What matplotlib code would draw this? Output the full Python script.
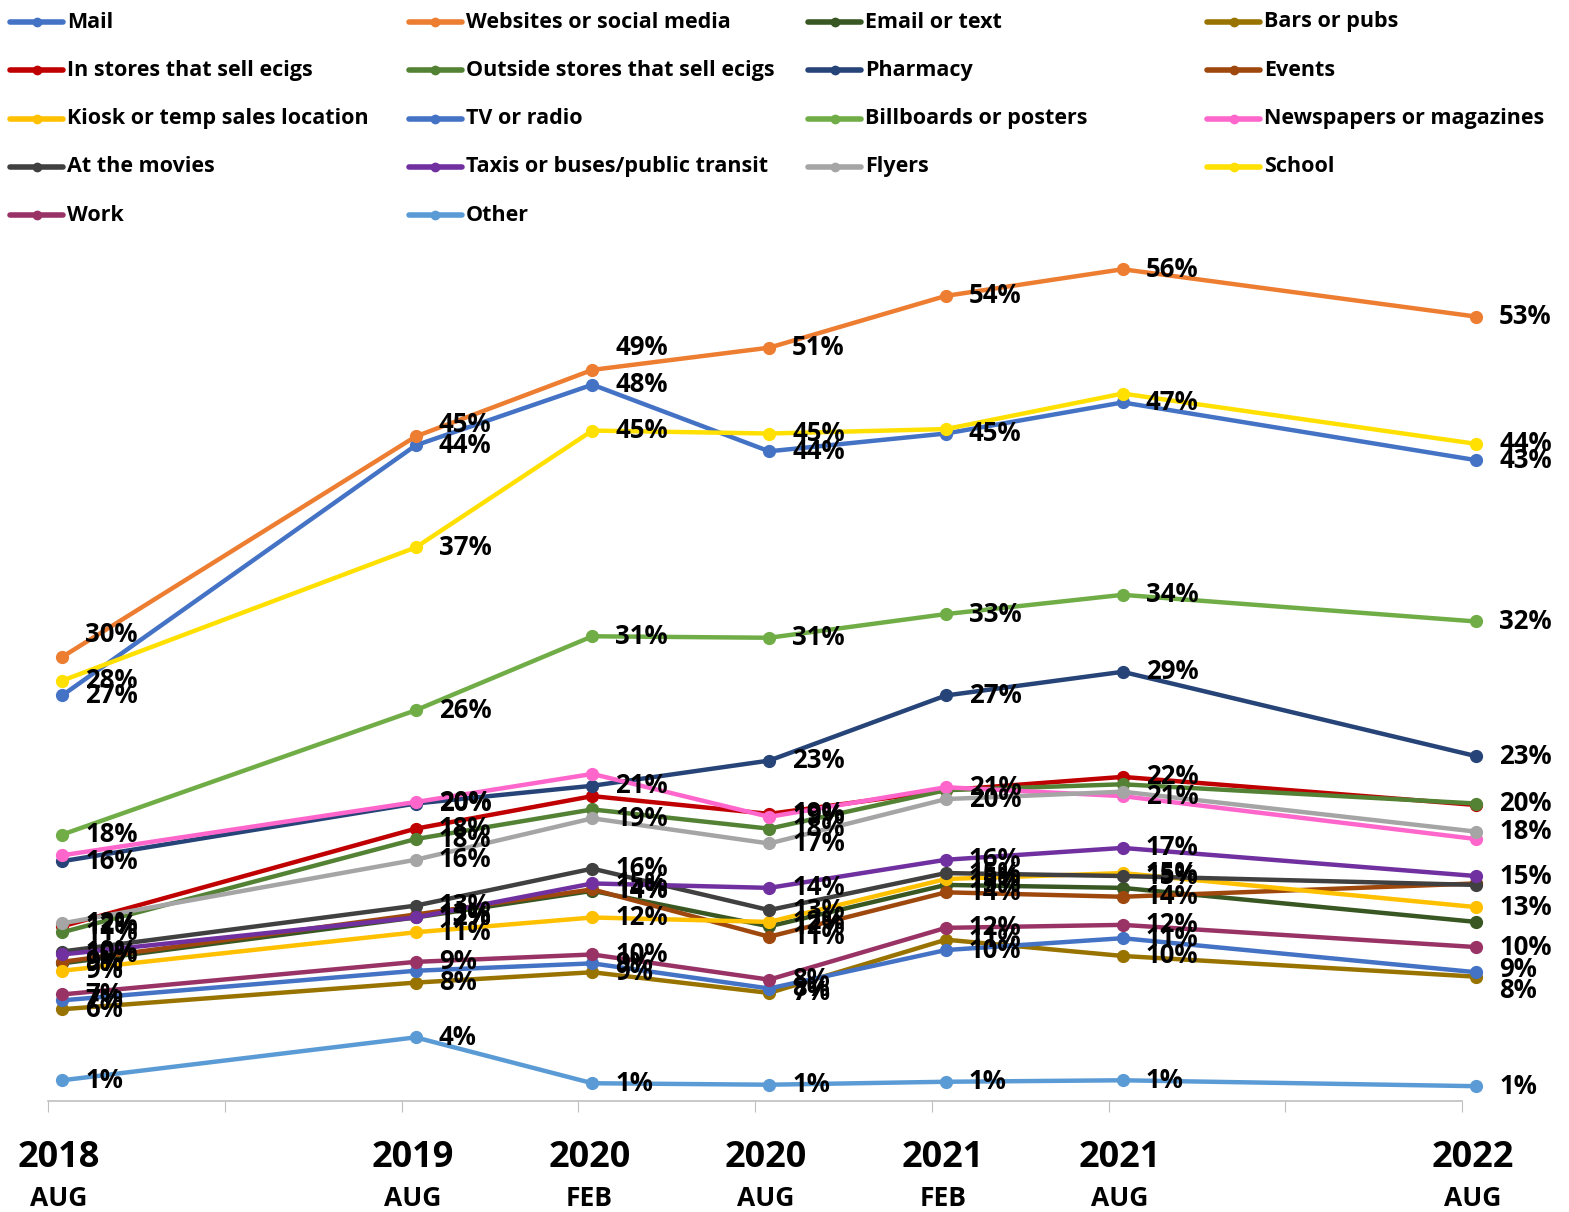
import numpy as np
import matplotlib
matplotlib.use('Agg')
import matplotlib.pyplot as plt
from matplotlib.lines import Line2D

plt.rcParams['font.family'] = ['Open Sans', 'DejaVu Sans']
plt.rcParams['font.weight'] = 'bold'

# survey waves, placed on a half-year axis
wave_pos = [0, 2, 3, 4, 5, 6, 8]
wave_year = ['2018', '2019', '2020', '2020', '2021', '2021', '2022']
wave_month = ['AUG', 'AUG', 'FEB', 'AUG', 'FEB', 'AUG', 'AUG']

names = ['Mail', 'Websites or social media', 'Email or text', 'Bars or pubs',
         'In stores that sell ecigs', 'Outside stores that sell ecigs', 'Pharmacy', 'Events',
         'Kiosk or temp sales location', 'TV or radio', 'Billboards or posters', 'Newspapers or magazines',
         'At the movies', 'Taxis or buses/public transit', 'Flyers', 'School',
         'Work', 'Other']

colors = ['#4472C4', '#ED7D31', '#385723', '#997300',
          '#C00000', '#548235', '#264478', '#9E480E',
          '#FFC000', '#4472C4', '#70AD47', '#FF66CC',
          '#404040', '#7030A0', '#A5A5A5', '#FFE000',
          '#993366', '#5B9BD5']

mail = [27.4, 44.3, 48.4, 43.9, 45.1, 47.2, 43.3]
websites = [30.0, 44.9, 49.4, 50.9, 54.4, 56.2, 53.0]
email = [9.3, 12.4, 14.2, 11.8, 14.6, 14.4, 12.1]
bars = [6.2, 8.0, 8.7, 7.3, 10.9, 9.8, 8.4]
in_stores = [11.8, 18.4, 20.6, 19.4, 21.0, 21.9, 20.0]
outside_stores = [11.4, 17.7, 19.7, 18.4, 21.0, 21.4, 20.1]
pharmacy = [16.2, 20.1, 21.3, 23.0, 27.4, 29.0, 23.3]
events = [9.4, 12.6, 14.3, 11.1, 14.1, 13.8, 14.7]
kiosk = [8.8, 11.4, 12.4, 12.1, 15.0, 15.4, 13.1]
tv_radio = [6.8, 8.8, 9.3, 7.6, 10.2, 11.0, 8.7]
billboards = [18.0, 26.4, 31.4, 31.3, 32.9, 34.2, 32.4]
newspapers = [16.6, 20.2, 22.1, 19.2, 21.2, 20.6, 17.7]
movies = [10.1, 13.2, 15.7, 12.9, 15.4, 15.2, 14.6]
taxis = [9.9, 12.4, 14.7, 14.4, 16.3, 17.1, 15.2]
flyers = [12.0, 16.3, 19.1, 17.4, 20.4, 20.9, 18.2]
school = [28.4, 37.4, 45.3, 45.1, 45.4, 47.8, 44.4]
work = [7.2, 9.4, 9.9, 8.2, 11.7, 11.9, 10.4]
other = [1.4, 4.3, 1.2, 1.1, 1.3, 1.4, 1.0]

series = [mail, websites, email, bars, in_stores, outside_stores, pharmacy, events,
          kiosk, tv_radio, billboards, newspapers, movies, taxis, flyers, school,
          work, other]

# data labels that are switched off
hidden = {'Newspapers or magazines': [0, 2, 6], 'In stores that sell ecigs': [2, 4, 6],
          'Outside stores that sell ecigs': [2, 4, 5], 'Flyers': [5], 'TV or radio': [1],
          'School': [4, 5], 'Email or text': [5, 6], 'At the movies': [6], 'Events': [6]}
# labels nudged up or down (pixels)
lifted = {('Websites or social media', 0): 23, ('Websites or social media', 1): 12,
          ('Websites or social media', 2): 22, ('Bars or pubs', 6): -14,
          ('TV or radio', 6): 3}

W, H = 1569, 1212
fig = plt.figure(figsize=(W / 100, H / 100), dpi=100)
ax = fig.add_axes([48 / W, 1 - 1101 / H, (1462 - 48) / W, (1101 - 213) / H])
ax.set_xlim(-0.08, 7.92)
ax.set_ylim(0, 60)

for name, vals, col in zip(names, series, colors):
    ax.plot(wave_pos, vals, color=col, lw=3.2, marker='o', ms=8.5, clip_on=False,
            solid_capstyle='round')
    for i, (x, v) in enumerate(zip(wave_pos, vals)):
        if i in hidden.get(name, []):
            continue
        ax.annotate(f'{v:.0f}%', (x, v), xytext=(23, lifted.get((name, i), 0)),
                    textcoords='offset pixels', ha='left', va='center',
                    fontsize=18.5, fontweight='bold', color='black', zorder=10,
                    annotation_clip=False)

# axis: only the bottom line with tick marks between waves
for s in ['left', 'right', 'top']:
    ax.spines[s].set_visible(False)
ax.spines['bottom'].set_color('#BFBFBF')
ax.spines['bottom'].set_linewidth(1.2)
ax.set_yticks([])
ax.set_xticks(np.arange(9) - 0.08)
ax.tick_params(axis='x', direction='out', length=8, color='#BFBFBF', labelbottom=False)

for x, yr, mo in zip(wave_pos, wave_year, wave_month):
    ax.annotate(yr, (x, 0), xycoords=('data', 'axes fraction'), xytext=(-3, -57),
                textcoords='offset pixels', ha='center', va='center', fontsize=26,
                fontweight='bold', annotation_clip=False)
    ax.annotate(mo, (x, 0), xycoords=('data', 'axes fraction'), xytext=(-3, -97),
                textcoords='offset pixels', ha='center', va='center', fontsize=19,
                fontweight='bold', annotation_clip=False)

# legend, 4 columns across the top
for i, (name, col) in enumerate(zip(names, colors)):
    c, r = i % 4, i // 4
    x0 = 10 + c * 399
    yc = 1 - (22 + r * 48.3) / H
    fig.add_artist(Line2D([x0 / W, (x0 + 53) / W], [yc, yc], color=col, lw=4,
                          solid_capstyle='round', transform=fig.transFigure))
    fig.add_artist(Line2D([(x0 + 26.5) / W], [yc], color=col, marker='o', ms=6,
                          transform=fig.transFigure))
    fig.text((x0 + 57) / W, yc, name, ha='left', va='center', fontsize=15.5,
             fontweight='bold', color='black')

fig.savefig('out.png', dpi=100)
